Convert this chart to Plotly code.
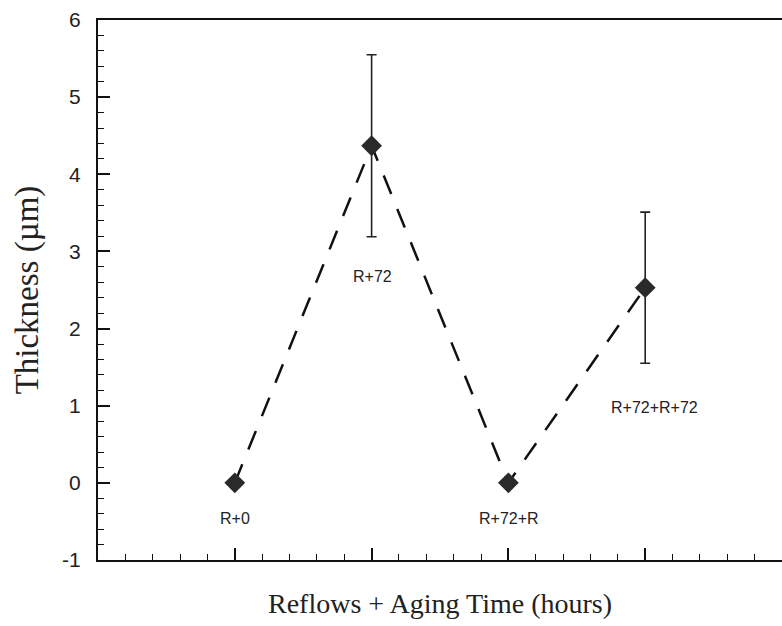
import plotly.graph_objects as go

categories = ["R+0", "R+72", "R+72+R", "R+72+R+72"]
positions = [0, 1, 2, 3]
thickness = [0.0, 4.37, 0.0, 2.53]
errors = [0.0, 1.18, 0.0, 0.98]
y_ticks = [-1, 0, 1, 2, 3, 4, 5, 6]
y_tick_text = ["-1", "0", "1", "2", "3", "4", "5", "6"]
label_shift_x = [0, 1, 1, 9]
label_shift_y = [-36, -131, -36, -120]

fig = go.Figure()

fig.add_trace(go.Scatter(
    x=positions, y=thickness, mode="lines",
    line=dict(color="#111111", width=2.5, dash="20px,16px"),
    showlegend=False, hoverinfo="skip"))

ex = [p for p, e in zip(positions, errors) if e > 0]
ey = [t for t, e in zip(thickness, errors) if e > 0]
ee = [e for e in errors if e > 0]
fig.add_trace(go.Scatter(
    x=ex, y=ey, mode="markers",
    marker=dict(size=1, color="rgba(0,0,0,0)"),
    error_y=dict(type="data", array=ee, visible=True, color="#222222",
                 thickness=1.6, width=5),
    showlegend=False, hoverinfo="skip"))

fig.add_trace(go.Scatter(
    x=positions, y=thickness, mode="markers",
    marker=dict(symbol="diamond", size=16, color="#2a2a2a",
                line=dict(width=0)),
    showlegend=False))

for p, t, c, sx, sy in zip(positions, thickness, categories, label_shift_x, label_shift_y):
    fig.add_annotation(x=p, y=t, text=c, showarrow=False,
                       xshift=sx, yshift=sy,
                       font=dict(family="Liberation Sans, Arial", size=16, color="#222222"))

fig.update_layout(
    width=782, height=626,
    margin=dict(l=98, r=0, t=20, b=66),
    paper_bgcolor="white", plot_bgcolor="white",
    xaxis=dict(
        range=[-1, 4], tick0=0, dtick=1, showticklabels=False,
        ticks="inside", ticklen=12, tickwidth=1.6, tickcolor="#111111",
        minor=dict(ticks="inside", dtick=0.2, tick0=0, ticklen=6,
                   tickwidth=1.4, tickcolor="#111111"),
        showline=True, linecolor="#111111", linewidth=2, mirror=True,
        showgrid=False, zeroline=False,
        title=dict(text="Reflows + Aging Time (hours)", standoff=32,
                   font=dict(family="Liberation Serif, Times New Roman", size=28, color="#222222")),
    ),
    yaxis=dict(
        range=[-1, 6], tickmode="array", tickvals=y_ticks, ticktext=y_tick_text,
        ticks="inside", ticklen=12, tickwidth=1.6, tickcolor="#111111",
        minor=dict(ticks="inside", dtick=0.2, tick0=0, ticklen=6,
                   tickwidth=1.4, tickcolor="#111111"),
        showline=True, linecolor="#111111", linewidth=2, mirror=False,
        showgrid=False, zeroline=False,
        ticklabelstandoff=11,
        tickfont=dict(family="Liberation Sans, Arial", size=21, color="#222222"),
        title=dict(text="Thickness (µm)", standoff=14,
                   font=dict(family="Liberation Serif, Times New Roman", size=33, color="#222222")),
    ),
)

fig.write_html("out.html")
